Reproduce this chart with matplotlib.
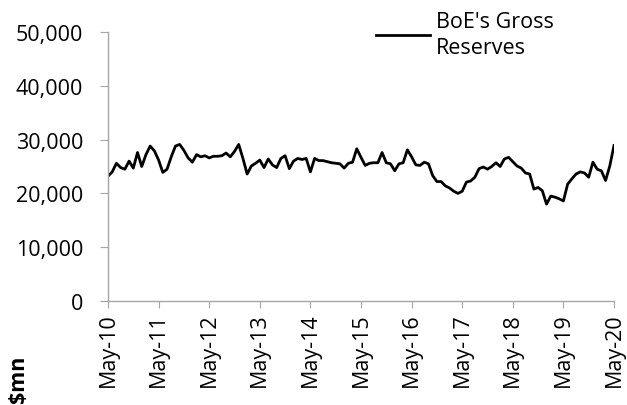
import numpy as np
import matplotlib
matplotlib.use("Agg")
import matplotlib.pyplot as plt
from matplotlib.ticker import FuncFormatter

# Monthly BoE gross reserves, $mn (May-10 .. May-20)
reserves = [
    23200, 24000, 25600, 24800, 24500, 26000, 24700, 27600, 25000, 27200,
    28800, 27900, 26200, 23900, 24500, 26800, 28800, 29100, 28000, 26600,
    25800, 27200, 26800, 27000, 26600, 26900, 26900, 27000, 27500, 26800,
    27800, 29100, 26500, 23600, 25100, 25600, 26200, 24800, 26400, 25300,
    24800, 26500, 27000, 24600, 26000, 26500, 26300, 26500, 24000, 26500,
    26100, 26100, 25900, 25700, 25600, 25500, 24700, 25600, 25800, 28300,
    26700, 25200, 25600, 25700, 25700, 27600, 25700, 25500, 24200, 25500,
    25700, 28100, 26800, 25300, 25200, 25800, 25500, 23300, 22200, 22200,
    21400, 21000, 20400, 20000, 20400, 22100, 22300, 23000, 24600, 24900,
    24500, 25000, 25700, 25000, 26400, 26700, 25900, 25100, 24700, 23800,
    23600, 20800, 21100, 20500, 18000, 19500, 19300, 19000, 18600, 21700,
    22700, 23600, 24000, 23800, 23000, 25800, 24500, 24200, 22400, 25100,
    28900,
]
tick_labels = ["May-10", "May-11", "May-12", "May-13", "May-14", "May-15",
               "May-16", "May-17", "May-18", "May-19", "May-20"]
series_name = "BoE's Gross\nReserves"

plt.rcParams["font.family"] = ["Open Sans", "DejaVu Sans"]
fs = 15.5

fig = plt.figure(figsize=(6.27, 4.06), dpi=100)
ax = fig.add_axes([108 / 627, 104 / 406, 506 / 627, 269 / 406])

months = np.arange(len(reserves))
ax.plot(months, reserves, color="black", linewidth=2.0, label=series_name)

ax.set_xlim(0, 120)
ax.set_ylim(0, 50000)
ax.set_xticks(np.arange(0, 121, 12))
ax.set_xticklabels(tick_labels, rotation=90, fontsize=fs)
ax.set_yticks(np.arange(0, 50001, 10000))
ax.yaxis.set_major_formatter(FuncFormatter(lambda v, p: f"{int(v):,}"))
ax.tick_params(axis="y", labelsize=fs, color="#A6A6A6", length=6, pad=12)
ax.tick_params(axis="x", color="#A6A6A6", length=5, pad=3)

for side in ["top", "right"]:
    ax.spines[side].set_visible(False)
for side in ["left", "bottom"]:
    ax.spines[side].set_color("#A6A6A6")
    ax.spines[side].set_linewidth(1.0)

leg = ax.legend(loc="upper left", bbox_to_anchor=(364 / 627, 1.0), bbox_transform=fig.transFigure,
                frameon=False, fontsize=fs, handlelength=2.5, handletextpad=0.3,
                borderaxespad=0.15)
for t in leg.get_texts():
    t.set_linespacing(1.35)

# y-axis unit label, sits low on the left like the original
fig.text(8 / 627, (406 - 356) / 406, "$mn", rotation=90, fontsize=fs,
         fontweight="bold", ha="left", va="top")

fig.savefig("out.png", dpi=100)
